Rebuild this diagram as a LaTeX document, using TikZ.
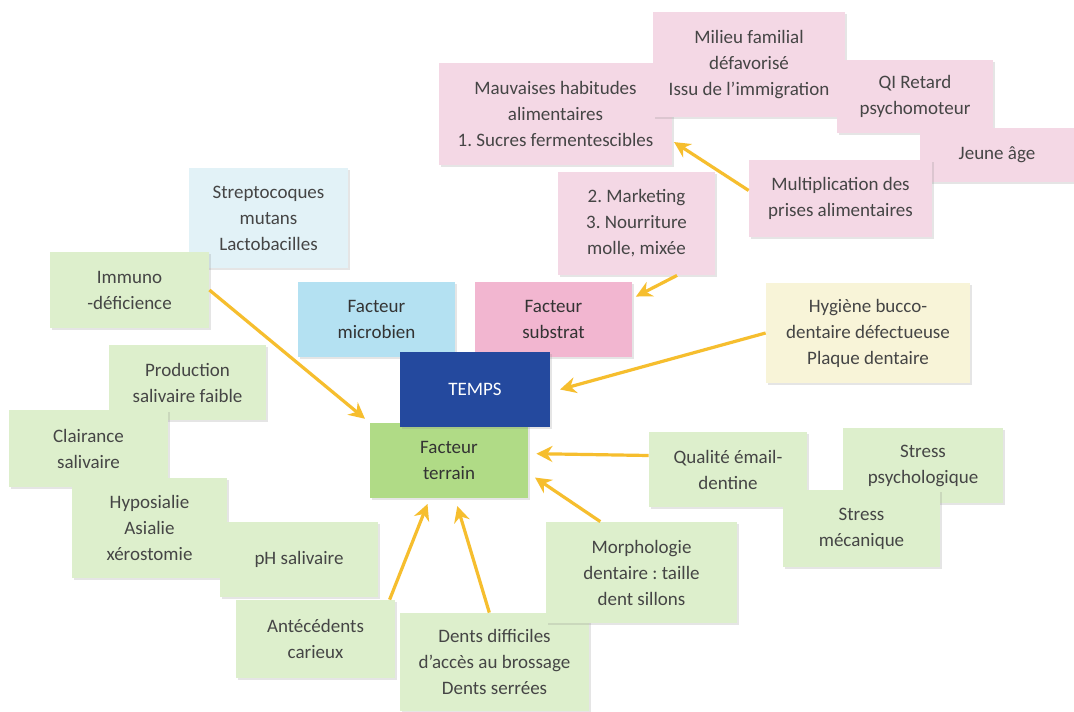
\documentclass[tikz,border=0pt]{standalone}
\usepackage{fontspec}
\setmainfont{Carlito}
\usetikzlibrary{arrows.meta, shadows}
\frenchspacing

\definecolor{pinkpale}{HTML}{F4D8E5}
\definecolor{pinkfact}{HTML}{F2B6D0}
\definecolor{bluepale}{HTML}{E2F2F7}
\definecolor{bluefact}{HTML}{B4E1F2}
\definecolor{tempsblue}{HTML}{24499E}
\definecolor{greenfact}{HTML}{B0DB86}
\definecolor{greenpale}{HTML}{DDEFCC}
\definecolor{yellowpale}{HTML}{F8F4D8}
\definecolor{arrowyellow}{HTML}{F6BE2E}
\definecolor{textgrey}{HTML}{454545}

\begin{document}
\begin{tikzpicture}[x=0.5pt, y=-0.5pt, >={Stealth[length=8pt, width=8pt]},
    font=\fontsize{9.5}{13}\selectfont,
    every node/.style={align=center, inner sep=2pt, text=textgrey},
    box/.style={fill=#1, drop shadow={shadow xshift=0.8pt, shadow yshift=-0.8pt, opacity=0.2}},
    boxdim/.style 2 args={minimum width=#1*0.5pt, minimum height=#2*0.5pt},
    link/.style={->, draw=arrowyellow, line width=1.6pt, shorten >=1pt}]

    \path[use as bounding box, fill=white] (0,0) rectangle (1074,711);

    % facteur substrat
    \node[box=pinkpale, boxdim={233}{102}] (habitudes) at (555.5,114) {Mauvaises habitudes\\alimentaires\\1. Sucres fermentescibles};
    \node[box=pinkpale, boxdim={192}{105}] (milieu) at (749,64.5) {Milieu familial\\défavorisé\\Issu de l'immigration};
    \node[box=pinkpale, boxdim={156}{73}] (qi) at (915,96.5) {QI Retard\\psychomoteur};
    \node[box=pinkpale, boxdim={154}{54}] (jeune) at (997,155) {Jeune âge};
    \node[box=pinkpale, boxdim={183}{77}] (prises) at (840.5,198.5) {Multiplication des\\prises alimentaires};
    \node[box=pinkpale, boxdim={157}{103}] (marketing) at (636.5,223.5) {2. Marketing\\3. Nourriture\\molle, mixée};

    % facteur microbien
    \node[box=bluepale, boxdim={159}{100}] (strepto) at (268.5,218) {Streptocoques\\mutans\\Lactobacilles};

    % facteurs
    \node[box=bluefact, boxdim={157}{75}, text=black!80] (microbien) at (376.5,319.5) {Facteur\\microbien};
    \node[box=pinkfact, boxdim={157}{75}, text=black!80] (substrat) at (553.5,319.5) {Facteur\\substrat};
    \node[box=greenfact, boxdim={158}{75}, text=black!80] (terrain) at (449,460.5) {Facteur\\terrain};
    \node[box=tempsblue, boxdim={150}{75}, text=white] (temps) at (475,389.5) {TEMPS};

    \node[box=yellowpale, boxdim={204}{100}] (hygiene) at (868,333) {Hygiène bucco-\\dentaire défectueuse\\Plaque dentaire};

    % facteur terrain
    \node[box=greenpale, boxdim={159}{76}] (immuno) at (129.5,290) {Immuno\\-déficience};
    \node[box=greenpale, boxdim={157}{75}] (production) at (187.5,382.5) {Production\\salivaire faible};
    \node[box=greenpale, boxdim={159}{77}] (clairance) at (88.5,448.5) {Clairance\\salivaire};
    \node[box=greenpale, boxdim={155}{100}] (hyposialie) at (149.5,528) {Hyposialie\\Asialie\\xérostomie};
    \node[box=greenpale, boxdim={158}{75}] (ph) at (299,559.5) {pH salivaire};
    \node[box=greenpale, boxdim={159}{78}] (antecedents) at (315.5,639) {Antécédents\\carieux};
    \node[box=greenpale, boxdim={189}{98}] (acces) at (494.5,662) {Dents difficiles\\d'accès au brossage\\Dents serrées};
    \node[box=greenpale, boxdim={191}{101}] (morphologie) at (641.5,572.5) {Morphologie\\dentaire : taille\\dent sillons};
    \node[box=greenpale, boxdim={158}{75}] (email) at (728,469.5) {Qualité émail-\\dentine};
    \node[box=greenpale, boxdim={160}{75}] (psycho) at (923,465.5) {Stress\\psychologique};
    \node[box=greenpale, boxdim={157}{77}] (mecanique) at (861.5,528.5) {Stress\\mécanique};

    \draw[link] (prises.175) -- (habitudes.-13);
    \draw[link, shorten >=2pt] (marketing.-52) -- (substrat.15);
    \draw[link, shorten >=3pt] (immuno.east) -- (terrain.north west);
    \draw[link, shorten >=5pt] (hygiene.west) -- (temps.-2);
    \draw[link, shorten >=4pt] (email.170) -- (terrain.5);
    \draw[link, shorten >=4pt] (morphologie.129) -- (terrain.-9);
    \draw[link, shorten >=3pt] (antecedents.28) -- (terrain.-117);
    \draw[link, shorten >=4pt] (acces.96) -- (terrain.-81);

\end{tikzpicture}
\end{document}
